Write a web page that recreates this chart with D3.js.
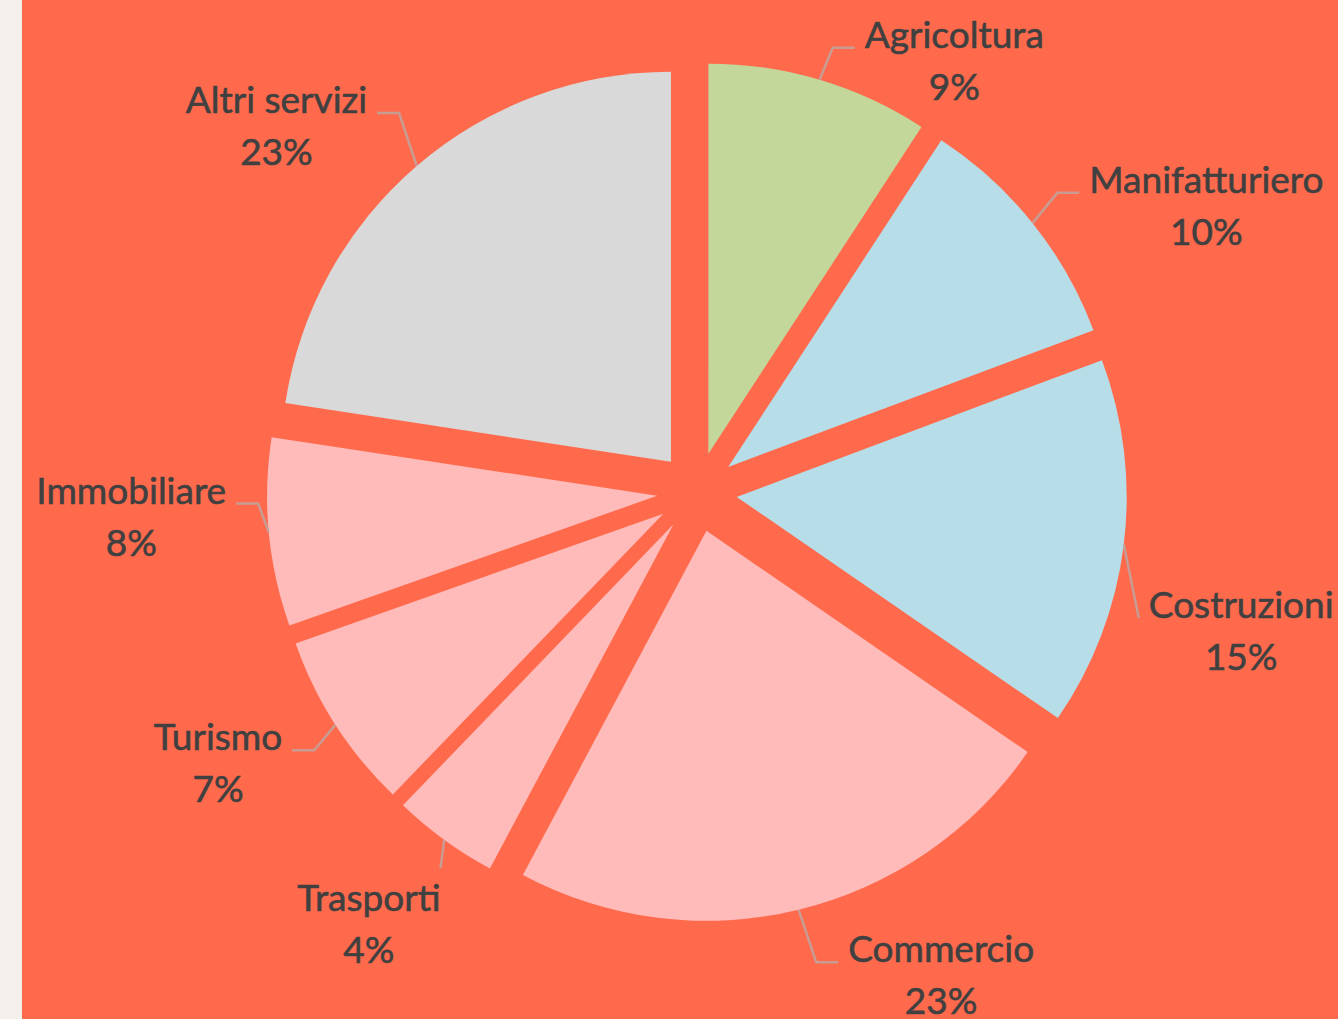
<!DOCTYPE html>
<html>
<head>
<meta charset="utf-8">
<style>
  body { margin: 0; background: #f3f0ec; }
  svg { display: block; }
  text { font-family: Lato, "Open Sans", sans-serif; fill: #404040; stroke: #404040; stroke-width: 0.6px; }
</style>
</head>
<body>
<svg width="1338" height="1019"></svg>
<script src="https://cdn.jsdelivr.net/npm/d3@7/dist/d3.min.js"></script>
<script>
var categories = ["Agricoltura", "Manifatturiero", "Costruzioni", "Commercio", "Trasporti", "Turismo", "Immobiliare", "Altri servizi"];
var shares = [9.2, 10.1, 15.3, 23.2, 4.4, 7.4, 7.8, 22.6];
var sliceColors = ["#c4d79b", "#b7dee8", "#b7dee8", "#ffbbb9", "#ffbbb9", "#ffbbb9", "#ffbbb9", "#d9d9d9"];

// where each label sits: angle (deg, clockwise from 12 o'clock) and distance from the pie centre
var labelAngle = [31.6, 61.8, 105.6, 153.8, 216.4, 239.3, 266.2, 310];
var labelDist = [491, 578, 565, 553, 553, 557, 567, 549];
var leaderToTop = [false, false, false, false, true, false, false, false];

var svg = d3.select("svg"),
    width = +svg.attr("width"),
    height = +svg.attr("height");

var cx = 697, cy = 492, radius = 390, explode = 40;

svg.append("rect")
    .attr("x", 22).attr("y", 0)
    .attr("width", width - 22).attr("height", height)
    .attr("fill", "#ff6a4d");

var data = categories.map(function(c, i) { return {name: c, value: shares[i], i: i}; });
var total = d3.sum(shares);
var pct = d3.format(".0%");

var pie = d3.pie().sort(null).value(function(d) { return d.value; });
var arc = d3.arc().innerRadius(0).outerRadius(radius);

var arcs = pie(data);

var chart = svg.append("g").attr("transform", "translate(" + cx + "," + cy + ")");

arcs.forEach(function(a) {
    var mid = (a.startAngle + a.endAngle) / 2;
    a.ox = Math.sin(mid) * explode;
    a.oy = -Math.cos(mid) * explode;
    a.mid = mid;
});

chart.selectAll("path.slice")
    .data(arcs)
    .enter().append("path")
    .attr("class", "slice")
    .attr("transform", function(d) { return "translate(" + d.ox + "," + d.oy + ")"; })
    .attr("d", arc)
    .attr("fill", function(d) { return sliceColors[d.data.i]; });

var leaders = chart.append("g");
var labels = chart.append("g");

arcs.forEach(function(a) {
    var i = a.data.i,
        ang = labelAngle[i] * Math.PI / 180,
        lx = Math.sin(ang) * labelDist[i],
        ly = -Math.cos(ang) * labelDist[i];

    var g = labels.append("g").attr("transform", "translate(" + lx + "," + ly + ")");
    var name = g.append("text")
        .attr("text-anchor", "middle")
        .attr("y", -26)
        .style("font-size", "37px")
        .text(a.data.name);
    g.append("text")
        .attr("text-anchor", "middle")
        .attr("y", 26)
        .style("font-size", "37px")
        .text(pct(a.data.value / total));

    var bb = name.node().getBBox(),
        x0 = lx + bb.x, x1 = lx + bb.x + bb.width, top = ly + bb.y,
        base = ly - 26;

    var sx = a.ox + Math.sin(a.mid) * radius,
        sy = a.oy - Math.cos(a.mid) * radius,
        pts;

    if (leaderToTop[i]) {
        pts = [[sx, sy], [Math.min(Math.max(sx, x0), x1), top - 6]];
    } else if (sx < lx) {
        var ex = x0 - 10, el = ex - 22;
        pts = el <= sx ? [[sx, sy], [ex, base]] : [[sx, sy], [el, base], [ex, base]];
    } else {
        var ex2 = x1 + 10, el2 = ex2 + 22;
        pts = el2 >= sx ? [[sx, sy], [ex2, base]] : [[sx, sy], [el2, base], [ex2, base]];
    }

    leaders.append("path")
        .attr("d", d3.line()(pts))
        .attr("fill", "none")
        .attr("stroke", "#b0b0b0")
        .attr("stroke-opacity", 0.7)
        .attr("stroke-width", 2.5);
});
</script>
</body>
</html>
